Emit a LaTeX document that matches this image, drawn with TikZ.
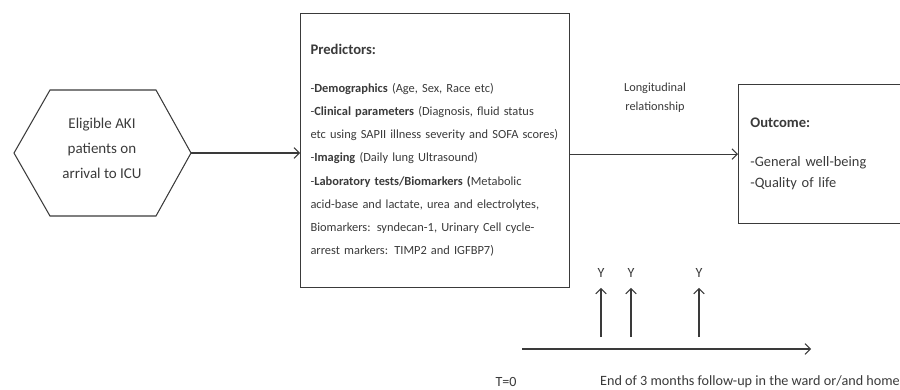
\documentclass[tikz,border=0pt]{standalone}
\usepackage{fontspec}
\setmainfont{Carlito}
\usetikzlibrary{calc,positioning,arrows.meta}
\definecolor{ink}{HTML}{3A3A3A}
\tikzset{
  boxnode/.style={draw=ink,line width=0.9pt,text=ink,align=left,anchor=north west},
  plain/.style={text=ink,inner sep=0pt},
  link/.style={draw=ink,line width=0.9pt,-{Straight Barb[length=4.5pt,width=9pt]}},
}

\begin{document}
\begin{tikzpicture}[x=0.03cm,y=-0.03cm]
        \useasboundingbox (0,0) rectangle (900,389);
        % hexagon
        \coordinate (h1) at (14,153);
        \coordinate (h2) at (50,90);
        \coordinate (h3) at (156,90);
        \coordinate (hexR) at (191,153);
        \coordinate (h5) at (156,216);
        \coordinate (h6) at (50,216);
        \draw[ink,line width=0.9pt] (h1) -- (h2) -- (h3) -- (hexR) -- (h5) -- (h6) -- cycle;
        \node[plain,align=center,font=\fontsize{12.8}{21.3}\selectfont] (elig) at (102,148)
            {Eligible AKI\\patients on\\arrival to ICU};
        % boxes
        \node[boxnode,minimum width=8.07cm,minimum height=8.22cm,text width=7.47cm,
              inner xsep=0.3cm,font=\fontsize{10.6}{19.8}\selectfont] (pred) at (300,13)
            {{\fontsize{12.5}{15}\selectfont\bfseries Predictors:}\\[12pt]
             -\textbf{Demographics} (Age, Sex, Race etc)\\
             -\textbf{Clinical parameters} (Diagnosis, fluid status\\
             etc using SAPII illness severity and SOFA scores)\\
             -\textbf{Imaging} (Daily lung Ultrasound)\\
             -\textbf{Laboratory tests/Biomarkers (}Metabolic\\
             acid-base and lactate, urea and electrolytes,\\
             Biomarkers: syndecan-1, Urinary Cell cycle-\\
             arrest markers: TIMP2 and IGFBP7)};
        \node[boxnode,minimum width=5.01cm,minimum height=4.17cm,text width=4.3cm,
              inner xsep=0.33cm,font=\fontsize{12.3}{18}\selectfont] (outc) at (738,84)
            {{\fontsize{12.5}{15}\selectfont\bfseries Outcome:}\\[15pt]
             -General well-being\\
             -Quality of life};
        \node[plain,align=center,font=\fontsize{10.5}{16.2}\selectfont] (longi) at (655,98)
            {Longitudinal\\relationship};
        % timeline
        \coordinate (t0) at (522,349);
        \coordinate (tend) at (811,349);
        \coordinate (b1) at (601,337);
        \coordinate (b2) at (631,337);
        \coordinate (b3) at (699,337);
        \node[plain,anchor=base,font=\fontsize{12}{12}\selectfont] (y1) at (601,277) {Y};
        \node[plain,anchor=base,font=\fontsize{12}{12}\selectfont] (y2) at (631,277) {Y};
        \node[plain,anchor=base,font=\fontsize{12}{12}\selectfont] (y3) at (699,277) {Y};
        \node[plain,font=\fontsize{12}{12}\selectfont] (tzero) at (506,382) {T=0};
        \node[plain,anchor=west,font=\fontsize{12.1}{12}\selectfont] (tlabel) at (600,382)
            {End of 3 months follow-up in the ward or/and home};
        % connectors
        \draw[link] (hexR) -- (pred.west |- hexR);
        \draw[link] (pred.east |- outc.west) -- (outc.west);
        \draw[link] (t0) -- (tend);
        \draw[link,shorten >=9pt] (b1) -- (y1.south);
        \draw[link,shorten >=9pt] (b2) -- (y2.south);
        \draw[link,shorten >=9pt] (b3) -- (y3.south);
\end{tikzpicture}
\end{document}
